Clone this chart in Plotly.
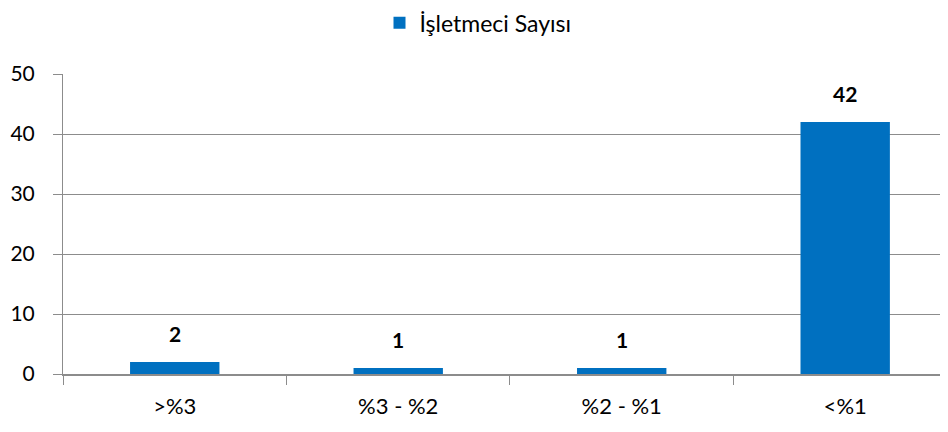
import plotly.graph_objects as go

categories = [">%3", "%3 - %2", "%2 - %1", "<%1"]
values = [2, 1, 1, 42]
series_name = "İşletmeci Sayısı"
y_ticks = [0, 10, 20, 30, 40, 50]

font_family = "Lato, Open Sans, sans-serif"
bar_color = "#0070C0"
grid_color = "#8C8C8C"

fig = go.Figure()
fig.add_trace(go.Bar(
    x=categories,
    y=values,
    name=series_name,
    marker=dict(color=bar_color, line=dict(width=0)),
    width=0.4,
    showlegend=True,
))

for c, v in zip(categories, values):
    fig.add_annotation(
        x=c, y=v, text=f"<b>{v}</b>", showarrow=False,
        yanchor="bottom", yshift=14,
        font=dict(family=font_family, size=21, color="#000000"),
    )

# page body has an 8px margin, so the figure is 8px smaller and margins shifted
fig.update_layout(
    width=940,
    height=424,
    margin=dict(l=55, r=0, t=66, b=58, autoexpand=False),
    paper_bgcolor="white",
    plot_bgcolor="white",
    font=dict(family=font_family, size=21, color="#000000"),
    showlegend=True,
    legend=dict(
        orientation="h",
        x=0.5, xanchor="center", xref="container",
        y=0.965, yanchor="middle",
        yref="container",
        font=dict(family=font_family, size=23, color="#000000"),
        itemwidth=30,
        bgcolor="rgba(0,0,0,0)",
    ),
)

fig.update_xaxes(
    range=[-0.5, 3.46],
    tickson="boundaries",
    ticks="outside",
    ticklen=9,
    tickcolor=grid_color,
    tickwidth=1,
    showline=True,
    linecolor=grid_color,
    linewidth=2,
    showgrid=False,
    automargin=False,
    tickfont=dict(family=font_family, size=22, color="#000000"),
    ticklabelstandoff=12,
)
fig.update_yaxes(
    range=[0, 50],
    tickvals=y_ticks,
    ticks="outside",
    ticklen=9,
    tickcolor=grid_color,
    tickwidth=1,
    showline=True,
    linecolor=grid_color,
    linewidth=1,
    showgrid=True,
    gridcolor=grid_color,
    gridwidth=1,
    zeroline=False,
    automargin=False,
    tickfont=dict(family=font_family, size=21, color="#000000"),
    ticklabelstandoff=14,
)

fig.write_html("out.html")
